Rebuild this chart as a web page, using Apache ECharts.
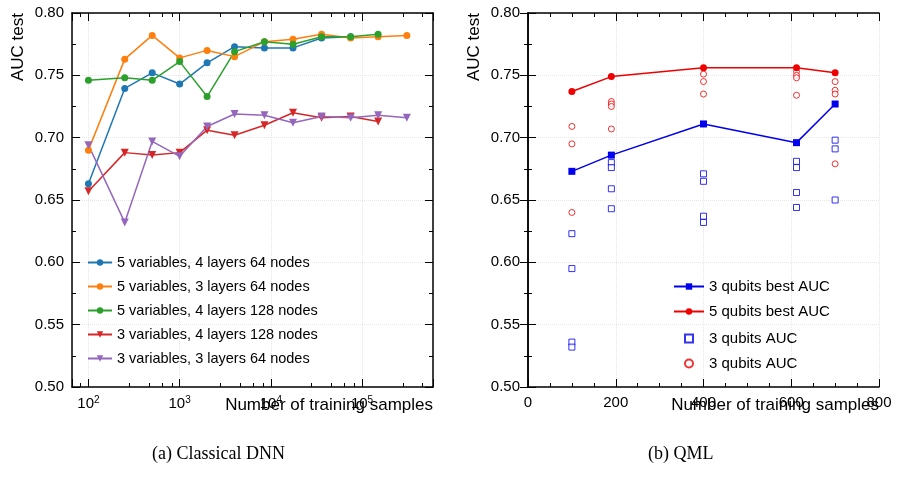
<!DOCTYPE html><html><head><meta charset="utf-8">
<script src="https://cdn.jsdelivr.net/npm/echarts@6/dist/echarts.min.js"></script>
<style>body{margin:0}#c{width:900px;height:480px}</style></head><body><div id="c"></div><script>
const xs=[100,250,500,1000,2000,4000,8500,17500,36000,75000,150000,310000];
const blue=[0.663,0.7395,0.752,0.743,0.760,0.773,0.772,0.772,0.780,0.781];
const orange=[0.690,0.763,0.782,0.764,0.770,0.765,0.777,0.779,0.783,0.780,0.781,0.782];
const green=[0.746,0.748,0.746,0.761,0.733,0.769,0.777,0.775,0.781,0.781,0.783];
const red=[0.657,0.688,0.686,0.688,0.706,0.702,0.710,0.720,0.716,0.717,0.713];
const purple=[0.694,0.632,0.697,0.685,0.709,0.719,0.718,0.712,0.717,0.716,0.718,0.716];
const leftNames=['5 variables, 4 layers 64 nodes','5 variables, 3 layers 64 nodes','5 variables, 4 layers 128 nodes','3 variables, 4 layers 128 nodes','3 variables, 3 layers 64 nodes'];
const qx=[100,190,400,612,700];
const best3=[0.673,0.686,0.711,0.696,0.727];
const best5=[0.737,0.749,0.756,0.756,0.752];
const all3=[[100,0.623],[100,0.595],[100,0.536],[100,0.532],[190,0.680],[190,0.676],[190,0.659],[190,0.643],[400,0.671],[400,0.665],[400,0.637],[400,0.632],[612,0.681],[612,0.676],[612,0.656],[612,0.644],[700,0.698],[700,0.691],[700,0.650]];
const all5=[[100,0.709],[100,0.695],[100,0.640],[190,0.729],[190,0.727],[190,0.725],[190,0.707],[400,0.751],[400,0.745],[400,0.735],[612,0.753],[612,0.750],[612,0.748],[612,0.734],[700,0.745],[700,0.738],[700,0.735],[700,0.679]];
const colsL=['#1f77b4','#ff7f0e','#2ca02c','#d62728','#9467bd'];
const F='Liberation Sans';
const pair=(a)=>a.map((v,i)=>[xs[i],v]);
function yAx(gi){return {type:'value',gridIndex:gi,min:0.5,max:0.8,interval:0.05,
 axisLine:{lineStyle:{color:'#000',width:1.5}},axisTick:{inside:true,length:8,lineStyle:{color:'#000'}},minorTick:{show:true,splitNumber:2,length:4,lineStyle:{color:'#000'}},
 axisLabel:{fontFamily:F,fontSize:15,color:'#000',formatter:v=>v.toFixed(2)},splitLine:{lineStyle:{color:'#e6e6e6',type:'dotted'}}};}
function yAxR(gi){return {type:'value',gridIndex:gi,position:'right',min:0.5,max:0.8,interval:0.05,axisLine:{lineStyle:{color:'#000',width:1.5}},axisTick:{inside:true,length:8,lineStyle:{color:'#000'}},minorTick:{show:true,splitNumber:2,length:4,lineStyle:{color:'#000'}},axisLabel:{show:false},splitLine:{show:false}};}
const ticks={axisLine:{lineStyle:{color:'#000',width:1.5}},axisTick:{inside:true,length:8,lineStyle:{color:'#000'}},minorTick:{show:true,length:4,lineStyle:{color:'#000'}}};
const series=[];
[blue,orange,green].forEach((d,i)=>series.push({name:leftNames[i],type:'line',xAxisIndex:0,yAxisIndex:0,data:pair(d),symbol:'circle',symbolSize:7,itemStyle:{color:colsL[i]},lineStyle:{width:1.5}}));
[red,purple].forEach((d,i)=>series.push({name:leftNames[i+3],type:'line',xAxisIndex:0,yAxisIndex:0,data:pair(d),symbol:'triangle',symbolRotate:180,symbolSize:8,itemStyle:{color:colsL[i+3]},lineStyle:{width:1.5}}));
series.push({name:'3 qubits best AUC',type:'line',xAxisIndex:2,yAxisIndex:2,data:qx.map((x,i)=>[x,best3[i]]),symbol:'rect',symbolSize:7,itemStyle:{color:'#0000ee'},lineStyle:{width:1.5}});
series.push({name:'5 qubits best AUC',type:'line',xAxisIndex:2,yAxisIndex:2,data:qx.map((x,i)=>[x,best5[i]]),symbol:'circle',symbolSize:7,itemStyle:{color:'#ee0000'},lineStyle:{width:1.5}});
series.push({name:'3 qubits AUC',type:'scatter',xAxisIndex:2,yAxisIndex:2,data:all3,symbol:'rect',symbolSize:6,itemStyle:{color:'#fff',borderColor:'#0000ee',borderWidth:1}});
series.push({name:'3 qubits AUC ',type:'scatter',xAxisIndex:2,yAxisIndex:2,data:all5,symbol:'circle',symbolSize:6,itemStyle:{color:'#fff',borderColor:'#ee0000',borderWidth:1}});
const chart=echarts.init(document.getElementById('c'));
const lt={fontFamily:F,fontSize:15,color:'#000'};
chart.setOption({animation:false,
 grid:[{left:72,top:13,width:361,height:374,outerBoundsMode:'none',containLabel:false},{left:528,top:13,width:351,height:374,outerBoundsMode:'none',containLabel:false}],
 xAxis:[
  Object.assign({type:'log',gridIndex:0,logBase:10,min:66,max:600000,
   axisLabel:{showMaxLabel:false,showMinLabel:false,fontFamily:F,fontSize:15,color:'#000',formatter:v=>{const e=Math.round(Math.log10(v));return '10{s|'+e+'}';},rich:{s:{fontSize:10,verticalAlign:'top',padding:[0,0,8,0],fontFamily:F}}},
   splitLine:{lineStyle:{color:'#e6e6e6',type:'dotted'}}},ticks),
  Object.assign({type:'log',gridIndex:0,logBase:10,min:66,max:600000,position:'top',axisLabel:{show:false},splitLine:{show:false}},ticks),
  Object.assign({type:'value',gridIndex:1,min:0,max:800,interval:200,
   axisLabel:{fontFamily:F,fontSize:15,color:'#000'},splitLine:{lineStyle:{color:'#e6e6e6',type:'dotted'}},minorTick:{show:true,splitNumber:4,length:4,lineStyle:{color:'#000'}}},{axisLine:ticks.axisLine,axisTick:ticks.axisTick}),
  Object.assign({type:'value',gridIndex:1,min:0,max:800,interval:200,position:'top',axisLabel:{show:false},splitLine:{show:false},minorTick:{show:true,splitNumber:4,length:4,lineStyle:{color:'#000'}}},{axisLine:ticks.axisLine,axisTick:ticks.axisTick})
 ],
 yAxis:[yAx(0),yAxR(0),yAx(1),yAxR(1)],
 legend:[{data:leftNames,left:82,top:250,orient:'vertical',itemGap:9,itemWidth:24,itemHeight:8,textStyle:{fontFamily:F,fontSize:14.5,color:'#000'}},
  {data:['3 qubits best AUC','5 qubits best AUC'],left:668,top:274,orient:'vertical',itemGap:10,itemWidth:30,itemHeight:8,textStyle:lt},
  {data:['3 qubits AUC','3 qubits AUC '],left:679,top:326,orient:'vertical',itemGap:10,itemWidth:8,itemHeight:8,textStyle:Object.assign({},lt,{padding:[0,0,0,11]})}],
 graphic:[
  {type:'text',x:10,y:13,rotation:Math.PI/2,style:{text:'AUC test',font:'17px "Liberation Sans"',fill:'#000',align:'right',verticalAlign:'top'}},
  {type:'text',x:466,y:13,rotation:Math.PI/2,style:{text:'AUC test',font:'17px "Liberation Sans"',fill:'#000',align:'right',verticalAlign:'top'}},
  {type:'text',x:433,y:397,style:{text:'Number of training samples',font:'17px "Liberation Sans"',fill:'#000',align:'right'}},
  {type:'text',x:879,y:397,style:{text:'Number of training samples',font:'17px "Liberation Sans"',fill:'#000',align:'right'}},
  {type:'text',left:152,top:445,style:{text:'(a) Classical DNN',font:'18px "Liberation Serif"',fill:'#000'}},
  {type:'text',left:648,top:445,style:{text:'(b) QML',font:'18px "Liberation Serif"',fill:'#000'}}],
 series});
</script></body></html>
